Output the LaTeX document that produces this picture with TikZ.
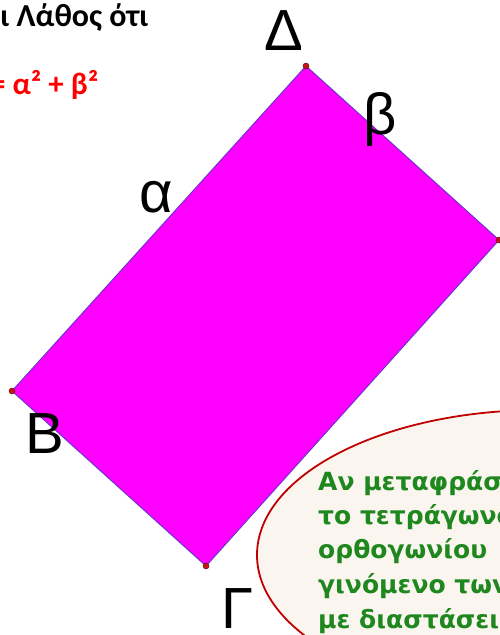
\documentclass[tikz,border=0pt]{standalone}
\usepackage{fontspec}
\setmainfont{Liberation Sans}
\newfontfamily\calib{Carlito}
\newfontfamily\dejab{DejaVu Sans}
\definecolor{magentafill}{RGB}{255,0,255}
\definecolor{edgecol}{RGB}{110,50,210}
\definecolor{dotred}{RGB}{200,20,20}
\definecolor{ellfill}{RGB}{250,245,238}
\definecolor{ellline}{RGB}{192,0,0}
\definecolor{greentext}{RGB}{30,135,30}
\begin{document}
\begin{tikzpicture}[x=1pt,y=-1pt,
  vlabel/.style={font=\fontsize{58}{60}\selectfont, inner sep=0pt, anchor=base},
  vdot/.style={circle, fill=dotred, draw=black!70!red, line width=0.4pt, inner sep=0pt, minimum size=6pt},
  gline/.style={font=\dejab\bfseries\fontsize{25}{30}\selectfont, text=greentext, inner sep=0pt, anchor=base west},
  toptext/.style={font=\calib\bfseries\fontsize{32}{36}\selectfont, inner sep=0pt, anchor=base west}]
\useasboundingbox (0,0) rectangle (500,635);
\clip (0,0) rectangle (500,635);
% rectangle vertices
\coordinate (D) at (306,66);
\coordinate (R) at (499,240);
\coordinate (G) at (206,566);
\coordinate (B) at (12,391);
\fill[magentafill] (D) -- (R) -- (G) -- (B) -- cycle;
\draw[edgecol, line width=1pt, line join=round] (D) -- (R) -- (G) -- (B) -- cycle;
\node[vdot] (dD) at (D) {};
\node[vdot] (dR) at (R) {};
\node[vdot] (dG) at (G) {};
\node[vdot] (dB) at (B) {};
% labels
\node[vlabel] (lD) at (284,50) {Δ};
\node[vlabel] (lB) at (45,453) {B};
\node[vlabel] (lG) at (237,628) {Γ};
\node[vlabel] (la) at (156,212) {α};
\node[vlabel] (lb) at (380,134) {β};
% top texts
\node[toptext] (t1) at (0,26) {ι Λάθος ότι};
\node[toptext, text=red, font=\calib\bfseries\fontsize{31}{36}\selectfont] (t2) at (-10,94) {= α² + β²};
% ellipse
\draw[ellline, fill=ellfill, line width=1.8pt] (540,555) ellipse [x radius=283, y radius=145];
\node[gline] (g1) at (318,490) {Αν μεταφράσουμε};
\node[gline] (g2) at (318,524) {το τετράγωνο};
\node[gline] (g3) at (318,558) {ορθογωνίου};
\node[gline] (g4) at (318,593) {γινόμενο των};
\node[gline] (g5) at (318,628) {με διαστάσεις};
\end{tikzpicture}
\end{document}
